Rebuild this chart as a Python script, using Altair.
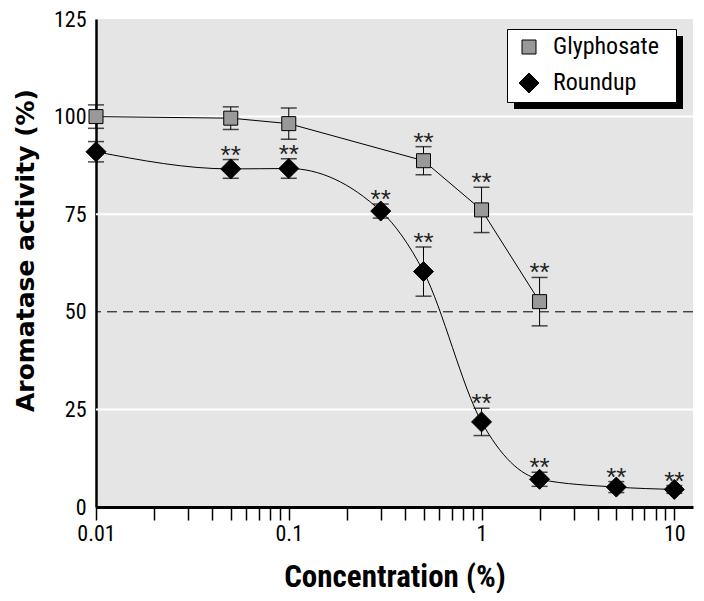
import altair as alt
import pandas as pd

# ---- data ----
series_names = ["Glyphosate", "Roundup"]

gly_conc = [0.01, 0.05, 0.1, 0.5, 1, 2]
gly_mean = [100.0, 99.6, 98.2, 88.7, 76.1, 52.6]
gly_err = [3.0, 2.9, 4.0, 3.6, 5.8, 6.2]
gly_sig = [0, 0, 0, 1, 1, 1]

rnd_conc = [0.01, 0.05, 0.1, 0.3, 0.5, 1, 2, 5, 10]
rnd_mean = [91.0, 86.6, 86.7, 75.8, 60.3, 21.8, 7.1, 5.1, 4.5]
rnd_err = [2.6, 2.4, 2.5, 1.8, 6.3, 3.5, 1.8, 1.4, 1.0]
rnd_sig = [0, 1, 1, 1, 1, 1, 1, 1, 1]

x_tick_values = [0.01, 0.02, 0.03, 0.04, 0.05, 0.06, 0.07, 0.08, 0.09,
                 0.1, 0.2, 0.3, 0.4, 0.5, 0.6, 0.7, 0.8, 0.9,
                 1, 2, 3, 4, 5, 6, 7, 8, 9, 10]
x_label_values = [0.01, 0.1, 1, 10]
y_tick_values = [0, 25, 50, 75, 100, 125]
grid_levels = [25, 75, 100]
ref_level = [50]

rows = []
for name, cs, ms, es, ss in [("Glyphosate", gly_conc, gly_mean, gly_err, gly_sig),
                             ("Roundup", rnd_conc, rnd_mean, rnd_err, rnd_sig)]:
    for c, m, e, s in zip(cs, ms, es, ss):
        rows.append({"conc": c, "mean": m, "lo": m - e, "hi": m + e,
                     "sig": s, "series": name})
df = pd.DataFrame(rows)

NARROW = "Liberation Sans Narrow, Roboto Condensed, DejaVu Sans Condensed, sans-serif"
XT = "Concentration (%)"
YT = "Aromatase activity (%)"

xscale = alt.Scale(type="log", domain=[0.01, 12.5], nice=False)
yscale = alt.Scale(domain=[0, 125], nice=False)

label_test = " || ".join(f"datum.value == {v}" for v in x_label_values)
xaxis = alt.Axis(values=x_tick_values, labelExpr=f"({label_test}) ? '' + datum.value : ''",
                 tickSize=13, tickWidth=1.5, tickColor="black", domainColor="black",
                 domainWidth=3, labelFont=NARROW, labelFontSize=22, labelColor="black",
                 labelPadding=3, labelFlush=False, labelOverlap=False, labelBound=False,
                 grid=False, titleFont=NARROW, titleFontSize=31, titleFontWeight="bold",
                 titleColor="black", titleY=79, titleBaseline="alphabetic")
yaxis = alt.Axis(values=y_tick_values, ticks=False, domainColor="black", domainWidth=2.5,
                 labelFont=NARROW, labelFontSize=22, labelColor="black", labelPadding=10,
                 grid=False, titleFont="DejaVu Sans", titleFontSize=25, titleFontWeight="bold",
                 titleColor="black", titleX=-63, titleY=231, titleBaseline="alphabetic",
                 titleAngle=270)

X = alt.X("conc:Q", scale=xscale, axis=xaxis, title=XT)
Y = alt.Y("mean:Q", scale=yscale, axis=yaxis, title=YT)

base = alt.Chart(df)

grid = alt.Chart(pd.DataFrame({"mean": grid_levels})).mark_rule(
    color="white", strokeWidth=2).encode(y=Y)
ref = alt.Chart(pd.DataFrame({"mean": ref_level})).mark_rule(
    color="black", strokeWidth=1, strokeDash=[10, 6]).encode(y=Y)

# legend frame decoration (drop shadow + white box)
deco = pd.DataFrame({"k": [0]})
shadow = alt.Chart(deco).mark_rect(color="black").encode(
    x=alt.value(418), x2=alt.value(587), y=alt.value(17), y2=alt.value(90))
box = alt.Chart(deco).mark_rect(fill="white", stroke="black", strokeWidth=1).encode(
    x=alt.value(411.5), x2=alt.value(580.5), y=alt.value(10.5), y2=alt.value(83.5))

err = base.mark_rule(color="black", strokeWidth=1).encode(
    x=X, y=alt.Y("lo:Q", scale=yscale, axis=yaxis, title=YT), y2="hi:Q")
cap_lo = base.mark_tick(orient="horizontal", size=16, thickness=1.5, color="black").encode(
    x=X, y=alt.Y("lo:Q", scale=yscale, axis=yaxis, title=YT))
cap_hi = base.mark_tick(orient="horizontal", size=16, thickness=1.5, color="black").encode(
    x=X, y=alt.Y("hi:Q", scale=yscale, axis=yaxis, title=YT))

line_g = base.transform_filter("datum.series == 'Glyphosate'").mark_line(
    color="black", strokeWidth=1, interpolate="linear").encode(x=X, y=Y)
line_r = base.transform_filter("datum.series == 'Roundup'").mark_line(
    color="black", strokeWidth=1, interpolate="monotone").encode(x=X, y=Y)

leg = alt.Legend(title=None, orient="none", legendX=411, legendY=11,
                 padding=5, symbolOffset=5, labelOffset=12, rowPadding=12,
                 labelFont=NARROW, labelFontSize=24, labelColor="black",
                 symbolStrokeColor="black", symbolStrokeWidth=1)
pts = base.mark_point(filled=True, stroke="black", strokeWidth=1, opacity=1).encode(
    x=X, y=Y,
    color=alt.Color("series:N", scale=alt.Scale(domain=series_names, range=["#999999", "#000000"]), legend=leg),
    shape=alt.Shape("series:N", scale=alt.Scale(domain=series_names, range=["square", "diamond"]), legend=leg),
    size=alt.Size("series:N", scale=alt.Scale(domain=series_names, range=[196, 400]), legend=leg),
)

stars = base.transform_filter("datum.sig == 1").mark_text(
    text="**", font="Liberation Sans, DejaVu Sans, sans-serif", fontSize=26,
    baseline="alphabetic", dy=4, color="#222222").encode(
    x=X, y=alt.Y("hi:Q", scale=yscale, axis=yaxis, title=YT))

chart = alt.layer(grid, ref, shadow, box, err, cap_lo, cap_hi, line_g, line_r, pts, stars).properties(
    width=597, height=488,
    autosize=alt.AutoSizeParams(type="none"),
    padding={"left": 88, "top": 11, "right": 3, "bottom": 86},
    background="white",
).configure_view(fill="#e5e5e5", stroke=None)

chart.save("out.html", embed_options={"renderer": "svg", "actions": False})
